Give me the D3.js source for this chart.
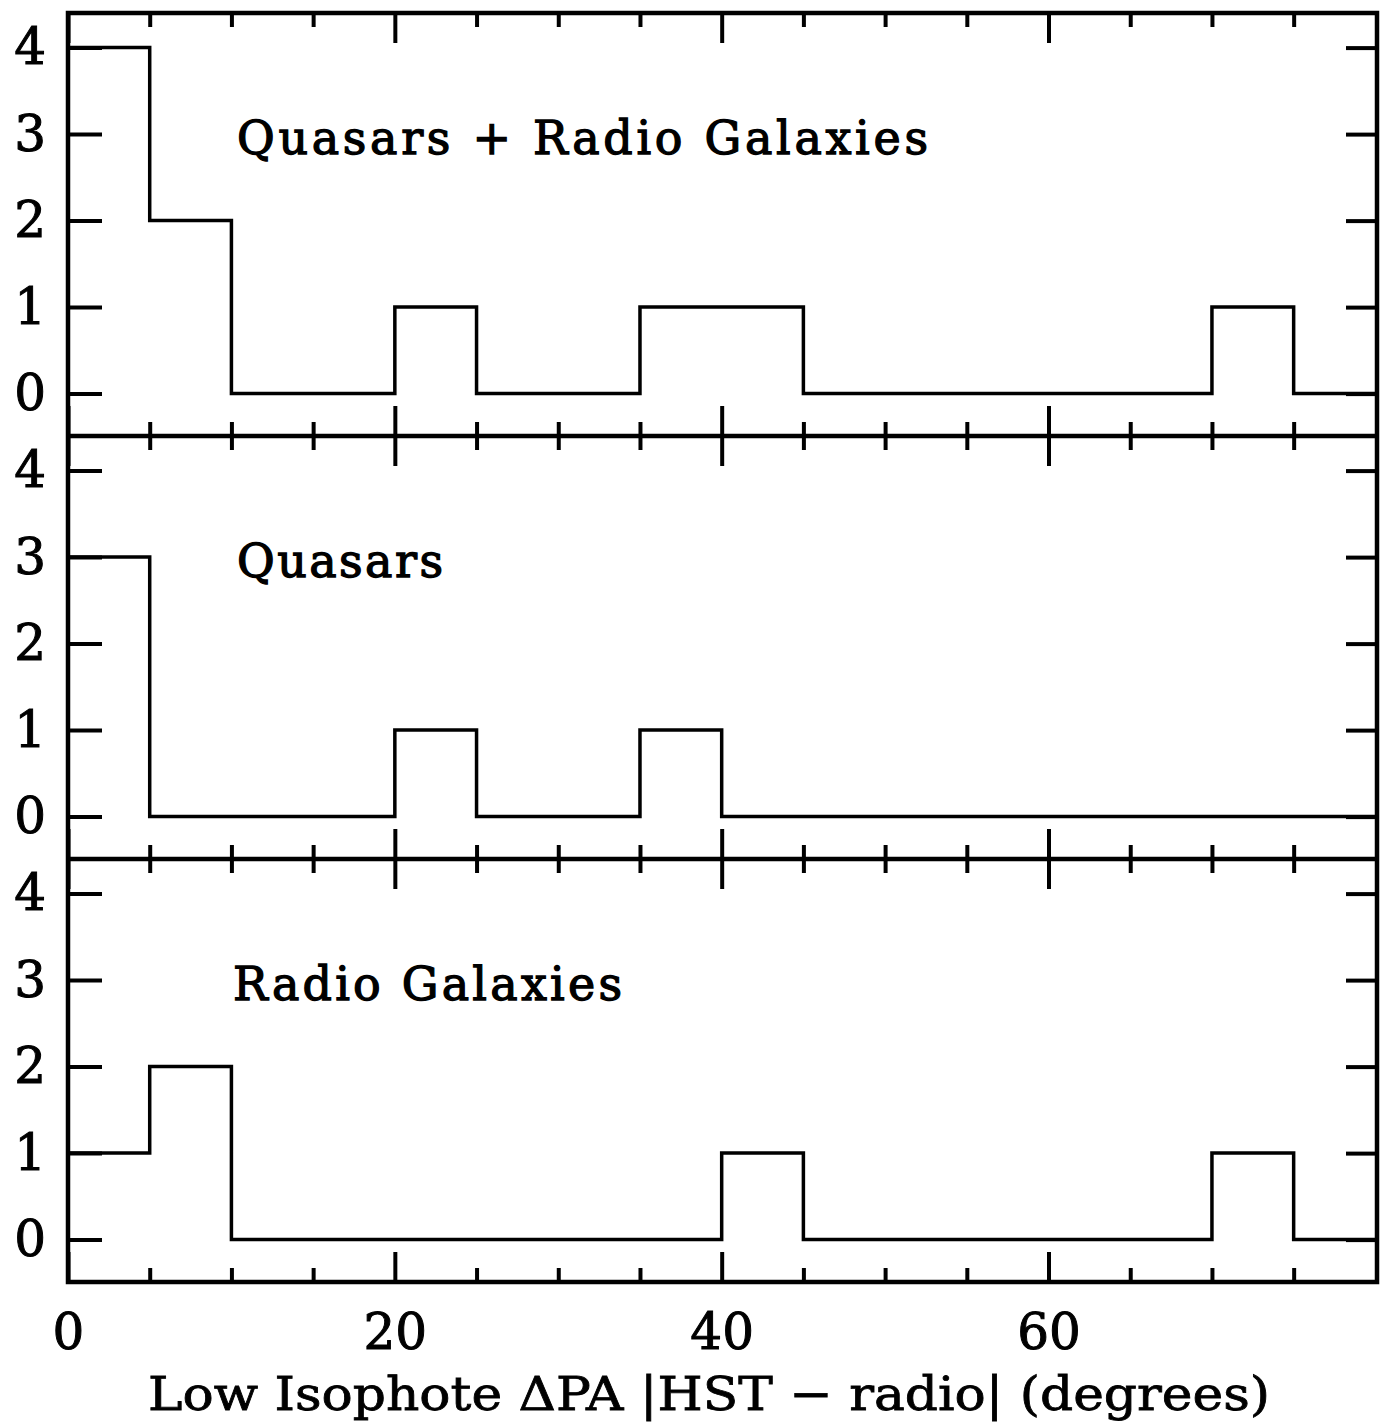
<!DOCTYPE html>
<html>
<head>
<meta charset="utf-8">
<script src="https://cdn.jsdelivr.net/npm/d3@7"></script>
<style>
  body { margin: 0; background: #fff; }
  .tick line { stroke: #000; stroke-width: 4; }
  .domain { display: none; }
</style>
</head>
<body>
<svg id="fig" width="1380" height="1425"></svg>
<script>
// bin edges in degrees (5 degree bins)
var binStarts = [0, 5, 10, 15, 20, 25, 30, 35, 40, 45, 50, 55, 60, 65, 70, 75];
var xMax = 80.1;

var panelNames = ["Quasars + Radio Galaxies", "Quasars", "Radio Galaxies"];
var countsAll = [4, 2, 0, 0, 1, 0, 0, 1, 1, 0, 0, 0, 0, 0, 1, 0];
var countsQuasars = [3, 0, 0, 0, 1, 0, 0, 1, 0, 0, 0, 0, 0, 0, 0, 0];
var countsRadioGal = [1, 2, 0, 0, 0, 0, 0, 0, 1, 0, 0, 0, 0, 0, 1, 0];
var panelCounts = [countsAll, countsQuasars, countsRadioGal];

var yTicks = [0, 1, 2, 3, 4];
var xMajor = [0, 20, 40, 60];
var xMinor = [5, 10, 15, 25, 30, 35, 45, 50, 55, 65, 70, 75];
var xLabel = "Low Isophote \u0394PA |HST \u2212 radio| (degrees)";

// note: "top" is taken by window.top, so use plotTop
var plotLeft = 68, plotRight = 1377, plotTop = 13, panelH = 423;

var fig = d3.select("#fig");
fig.append("rect").attr("width", 1380).attr("height", 1425).attr("fill", "#fff");

var x = d3.scaleLinear().domain([0, xMax]).range([plotLeft, plotRight]);

var line = d3.line()
    .x(function (d) { return x(d[0]); })
    .y(function (d) { return d[1]; })
    .curve(d3.curveStepAfter);

// label widths in the reference (typewriter spacing)
var labelX = [237, 237, 233];
var labelW = [691, 206, 389];

panelCounts.forEach(function (counts, p) {
    var y0 = plotTop + p * panelH;
    var y = d3.scaleLinear().domain([-0.49, 4.40]).range([y0 + panelH, y0]);
    var g = fig.append("g").attr("class", "panel");

    // histogram as a step line
    var pts = binStarts.map(function (b, i) { return [b, y(counts[i])]; });
    pts.push([xMax, y(counts[counts.length - 1])]);
    g.append("path")
        .attr("d", line(pts))
        .attr("fill", "none")
        .attr("stroke", "#000")
        .attr("stroke-width", 3.5);

    // y ticks, left with labels, right without
    g.append("g")
        .attr("transform", "translate(" + plotLeft + ",0)")
        .call(d3.axisLeft(y).tickValues(yTicks).tickSize(-34).tickPadding(22).tickFormat(d3.format("d")))
        .selectAll("text")
        .style("font-family", "DejaVu Serif")
        .style("font-size", "50px")
        .attr("fill", "#000")
        .attr("stroke", "#000")
        .attr("stroke-width", 1);
    g.append("g")
        .attr("transform", "translate(" + plotRight + ",0)")
        .call(d3.axisRight(y).tickValues(yTicks).tickSize(-31).tickFormat(""));

    // x ticks, top and bottom of each panel, pointing inward
    [[xMinor, 14], [xMajor, 30]].forEach(function (set) {
        g.append("g")
            .attr("transform", "translate(0," + y0 + ")")
            .call(d3.axisTop(x).tickValues(set[0]).tickSize(-set[1]).tickFormat(""));
        var bottom = g.append("g")
            .attr("transform", "translate(0," + (y0 + panelH) + ")")
            .call(d3.axisBottom(x).tickValues(set[0]).tickSize(-set[1]).tickPadding(31)
                .tickFormat(p === 2 && set[0] === xMajor ? d3.format("d") : ""));
        bottom.selectAll("text")
            .style("font-family", "DejaVu Serif")
            .style("font-size", "50px")
            .attr("fill", "#000")
            .attr("stroke", "#000")
            .attr("stroke-width", 1);
    });

    // panel label
    g.append("text")
        .attr("x", labelX[p])
        .attr("y", y0 + 141)
        .attr("textLength", labelW[p])
        .attr("lengthAdjust", "spacing")
        .text(panelNames[p])
        .style("font-family", "DejaVu Serif")
        .style("font-size", "46px")
        .attr("fill", "#000")
        .attr("stroke", "#000")
        .attr("stroke-width", 1.3);
});

// frame and dividers
fig.append("rect")
    .attr("x", plotLeft).attr("y", plotTop)
    .attr("width", plotRight - plotLeft).attr("height", 3 * panelH)
    .attr("fill", "none").attr("stroke", "#000").attr("stroke-width", 4.5);
[1, 2].forEach(function (p) {
    fig.append("line")
        .attr("x1", plotLeft).attr("x2", plotRight)
        .attr("y1", plotTop + p * panelH).attr("y2", plotTop + p * panelH)
        .attr("stroke", "#000").attr("stroke-width", 4.5);
});

// axis title
fig.append("text")
    .attr("x", (148 + 1270) / 2)
    .attr("y", 1410)
    .attr("text-anchor", "middle")
    .attr("textLength", 1122)
    .attr("lengthAdjust", "spacingAndGlyphs")
    .text(xLabel)
    .style("font-family", "DejaVu Serif")
    .style("font-size", "47px")
    .attr("fill", "#000")
    .attr("stroke", "#000")
    .attr("stroke-width", 0.8);
</script>
</body>
</html>
